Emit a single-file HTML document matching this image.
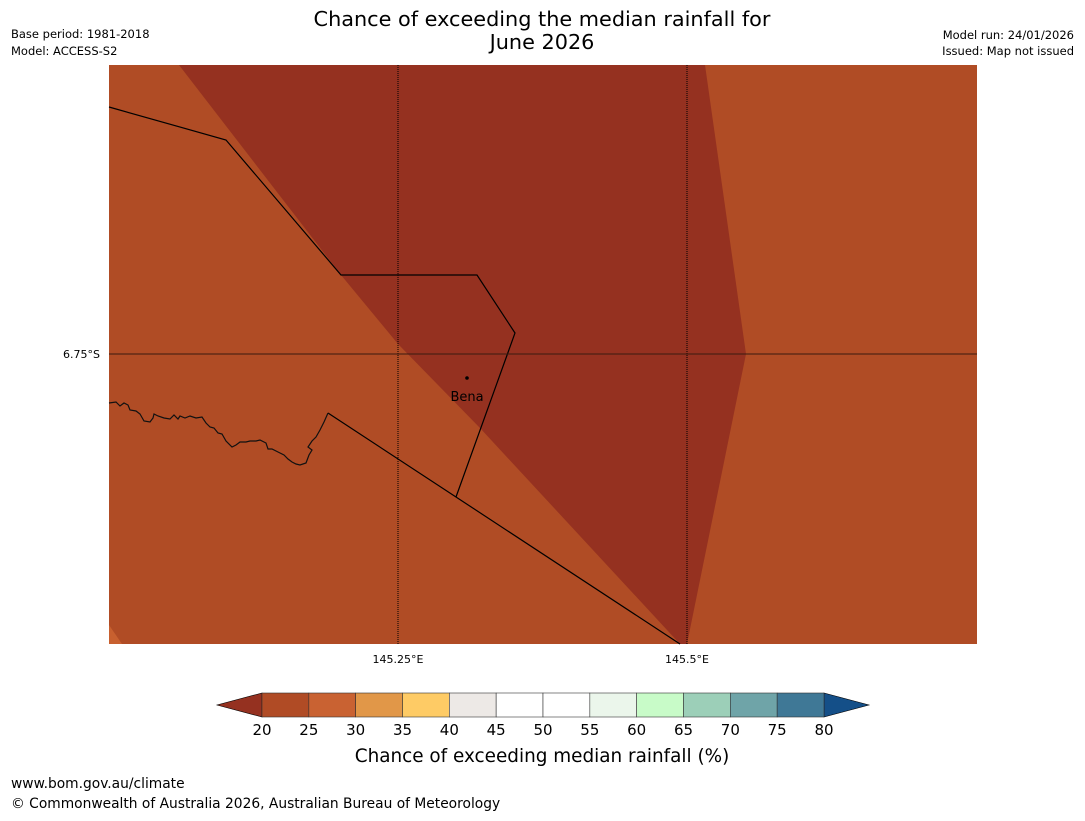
<!DOCTYPE html>
<html><head><meta charset="utf-8"><style>
body{margin:0;background:#fff;font-family:"Liberation Sans","DejaVu Sans",sans-serif}
svg text{font-family:"DejaVu Sans","Liberation Sans",sans-serif}
</style></head><body>
<svg id="s" width="1085" height="816" xmlns="http://www.w3.org/2000/svg">
<text x="542" y="26" font-size="20.8" text-anchor="middle">Chance of exceeding the median rainfall for</text>
<text x="542" y="49" font-size="20.8" text-anchor="middle">June 2026</text>
<text x="11" y="38" font-size="11.5">Base period: 1981-2018</text>
<text x="11" y="55" font-size="11.5">Model: ACCESS-S2</text>
<text x="1074" y="39" font-size="11.5" text-anchor="end">Model run: 24/01/2026</text>
<text x="1074" y="55" font-size="11.5" text-anchor="end">Issued: Map not issued</text>
<g>
<rect x="109" y="65" width="868" height="579" fill="#b04c25"/>
<polygon points="179,65 705,65 746,354 687,644 680,644 480,428 398,344 341,275" fill="#953120"/>
<polygon points="109,625 122,644 109,644" fill="#c8602f"/>
<polyline points="109,107 226,140 341,275 477,275 515,333 456,497" fill="none" stroke="#000" stroke-width="1.2"/>
<polyline points="328,413 680,644" fill="none" stroke="#000" stroke-width="1.2"/>
<polyline points="109,403 116,402 120,406 124,403 128,405 130,410 136,411 140,414 144,421 150,422 153,418 154,414 158,416 164,418 170,419 174,415 178,419 180,416 185,418 190,416 196,418 202,417 206,423 210,427 214,428 218,433 222,434 226,441 232,447 236,445 240,442 246,442 250,441 256,441 260,440 266,443 268,449 272,449 278,452 284,455 288,459 292,462 296,464 300,465 306,463 309,455 312,450 308,447 312,441 316,437 320,430 324,422 328,413" fill="none" stroke="#111" stroke-width="1.2"/>
<line x1="398" y1="65" x2="398" y2="644" stroke="#000" stroke-width="1" stroke-dasharray="1,1"/>
<line x1="687" y1="65" x2="687" y2="644" stroke="#000" stroke-width="1" stroke-dasharray="1,1"/>
<line x1="109" y1="354" x2="977" y2="354" stroke="#3a1a10" stroke-width="1"/>
<circle cx="467" cy="378" r="1.8" fill="#000"/>
<text x="467" y="401" font-size="13" text-anchor="middle">Bena</text>
</g>
<text x="100" y="358" font-size="11" text-anchor="end">6.75°S</text>
<text x="398" y="663" font-size="11" text-anchor="middle">145.25°E</text>
<text x="687" y="663" font-size="11" text-anchor="middle">145.5°E</text>
<g id="cb"></g>
<text x="542" y="762" font-size="18.4" text-anchor="middle">Chance of exceeding median rainfall (%)</text>
<text x="11" y="788" font-size="13.8">www.bom.gov.au/climate</text>
<text x="11" y="808" font-size="13.8">© Commonwealth of Australia 2026, Australian Bureau of Meteorology</text>
</svg>
<script>
const bounds=[20,25,30,35,40,45,50,55,60,65,70,75,80];
const binColors=["#b04b25","#c96232","#e19748","#fecb65","#ede9e6","#ffffff","#ffffff","#ebf6eb","#c8fbc8","#9ccfb8","#6fa4a8","#3f7896"];
const underColor="#953120", overColor="#144f88";
const NS="http://www.w3.org/2000/svg";
const cb=document.getElementById('cb');
const x0=262,x1=824,y0=693,y1=717;
const xs=v=>x0+(v-bounds[0])/(bounds[bounds.length-1]-bounds[0])*(x1-x0);
function mk(t,a){const e=document.createElementNS(NS,t);for(const k in a)e.setAttribute(k,a[k]);cb.appendChild(e);return e;}
let p=mk('polygon',{points:`${x0},${y0} ${x0},${y1} 217,705`,fill:underColor,stroke:'#000','stroke-width':0.6});


p=mk('polygon',{points:`${x1},${y0} ${x1},${y1} 869,705`,fill:overColor,stroke:'#000','stroke-width':0.6});


binColors.forEach((c,i)=>{
 const r=mk('rect',{x:xs(bounds[i]),y:y0,width:xs(bounds[i+1])-xs(bounds[i]),height:y1-y0,fill:c,stroke:'#333','stroke-width':0.6});
 
 
});
bounds.forEach(v=>{
 const t=mk('text',{x:xs(v),y:735,'font-size':15,'text-anchor':'middle'});
 t.textContent=v;
 
 
});
</script>
</body></html>
